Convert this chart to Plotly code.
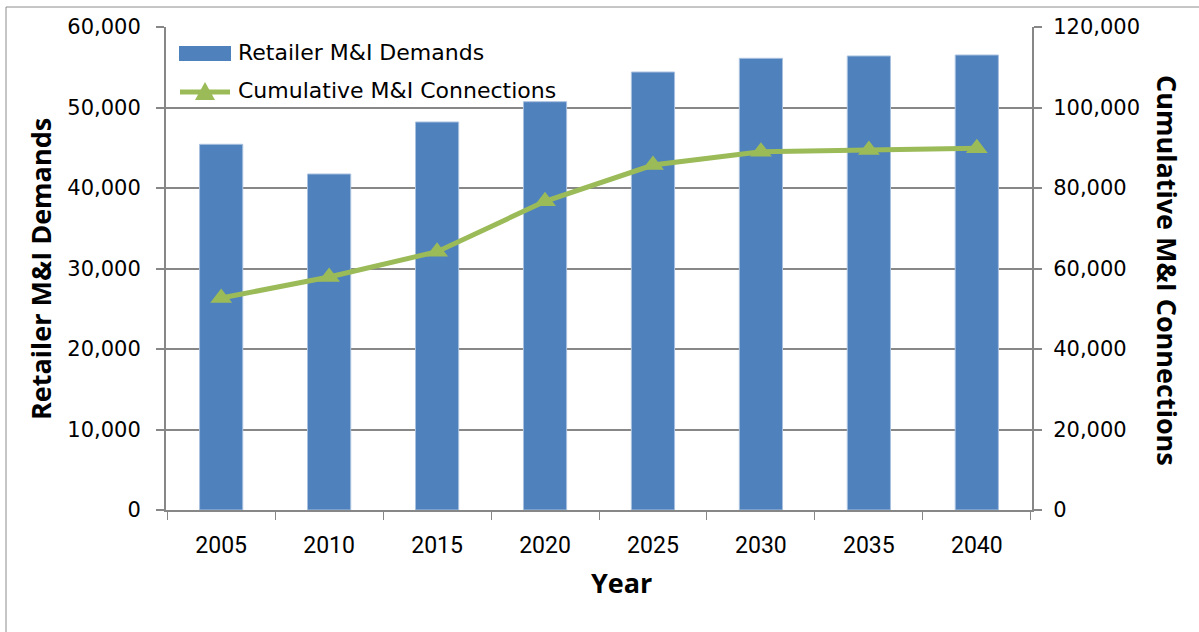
import plotly.graph_objects as go

# Retailer M&I demands and cumulative M&I connections by year
years = ["2005", "2010", "2015", "2020", "2025", "2030", "2035", "2040"]
demands = [45430, 41740, 48200, 50720, 54410, 56110, 56400, 56520]
connections = [52670, 57890, 64170, 76700, 85710, 89020, 89440, 89860]

left_ticks = [0, 10000, 20000, 30000, 40000, 50000, 60000]
right_ticks = [0, 20000, 40000, 60000, 80000, 100000, 120000]

bar_name = "Retailer M&I Demands"
line_name = "Cumulative M&I Connections"

W, H = 1199, 632
L, R, T, B = 166, 1032, 27, 510  # plot-area edges in pixels

def px(x):
    return (x - L) / (R - L)

def py(y):
    return (B - y) / (B - T)

grid = "#878787"
blue = "#4F81BD"
green = "#9BBB59"
tick_font = dict(family="DejaVu Sans", size=21, color="#000000")
title_font = dict(family="Open Sans", size=27, color="#000000")
legend_font = dict(family="DejaVu Sans", size=22, color="#000000")

fig = go.Figure()
fig.add_trace(go.Bar(
    x=years, y=demands, name=bar_name,
    marker=dict(color=blue, line=dict(color="#A9C1DF", width=1)),
    yaxis="y",
))
fig.add_trace(go.Scatter(
    x=years, y=connections, name=line_name,
    mode="lines+markers",
    line=dict(color=green, width=5),
    marker=dict(symbol="triangle-up", size=19, color=green),
    yaxis="y2",
))

# legend drawn as keys + labels in the upper-left corner of the plot area
legend_shapes = [
    dict(type="rect", xref="paper", yref="paper",
         x0=px(179), x1=px(231), y0=py(61), y1=py(46),
         fillcolor=blue, line=dict(width=0)),
    dict(type="line", xref="paper", yref="paper",
         x0=px(180), x1=px(230), y0=py(92), y1=py(92),
         line=dict(color=green, width=5)),
    dict(type="path", xref="paper", yref="paper",
         path=(f"M {px(195)} {py(100)} L {px(215)} {py(100)} "
               f"L {px(205)} {py(82)} Z"),
         fillcolor=green, line=dict(width=0)),
]
legend_labels = [
    dict(text=bar_name, x=px(236), y=py(53), xanchor="left", yanchor="middle",
         xref="paper", yref="paper", showarrow=False, font=legend_font),
    dict(text=line_name, x=px(236), y=py(91), xanchor="left", yanchor="middle",
         xref="paper", yref="paper", showarrow=False, font=legend_font),
]

fig.update_layout(
    width=W, height=H,
    margin=dict(l=L, r=W - R, t=T, b=H - B, pad=0),
    paper_bgcolor="white", plot_bgcolor="white",
    bargap=0.6,
    showlegend=False,
    xaxis=dict(
        type="category", tickson="boundaries",
        showline=True, linecolor=grid, linewidth=2,
        ticks="outside", ticklen=8, tickcolor=grid, tickwidth=1,
        showgrid=False,
        tickfont=dict(family="Roboto", size=23, color="#000000"),
        ticklabelstandoff=13,
    ),
    yaxis=dict(
        range=[0, 60000], tickvals=left_ticks,
        ticktext=[f"{v:,}" for v in left_ticks],
        showline=True, linecolor=grid, linewidth=2,
        ticks="outside", ticklen=8, tickcolor=grid, tickwidth=2,
        showgrid=True, gridcolor=grid, gridwidth=2,
        zeroline=False, tickfont=tick_font, ticklabelstandoff=11,
    ),
    yaxis2=dict(
        range=[0, 120000], tickvals=right_ticks,
        ticktext=[f"{v:,}" for v in right_ticks],
        overlaying="y", side="right",
        showline=True, linecolor=grid, linewidth=2,
        ticks="outside", ticklen=8, tickcolor=grid, tickwidth=2,
        showgrid=False, zeroline=False,
        tickfont=tick_font, ticklabelstandoff=7,
    ),
    shapes=[dict(
        type="rect", xref="paper", yref="paper",
        x0=px(6), x1=px(1260), y0=py(700), y1=py(7),
        line=dict(color="#8C8C8C", width=1), fillcolor="rgba(0,0,0,0)",
        layer="below",
    )] + legend_shapes,
    annotations=[
        dict(text="<b>Retailer M&I Demands</b>", x=px(40), y=py(269),
             xanchor="center", yanchor="middle",
             xref="paper", yref="paper", showarrow=False, textangle=-90,
             font=title_font),
        dict(text="<b>Cumulative M&I Connections</b>", x=px(1168), y=py(270),
             xanchor="center", yanchor="middle",
             xref="paper", yref="paper", showarrow=False, textangle=90,
             font=title_font),
        dict(text="<b>Year</b>", x=px(621), y=py(582),
             xanchor="center", yanchor="middle",
             xref="paper", yref="paper", showarrow=False,
             font=title_font),
    ] + legend_labels,
)

fig.write_html("out.html")
